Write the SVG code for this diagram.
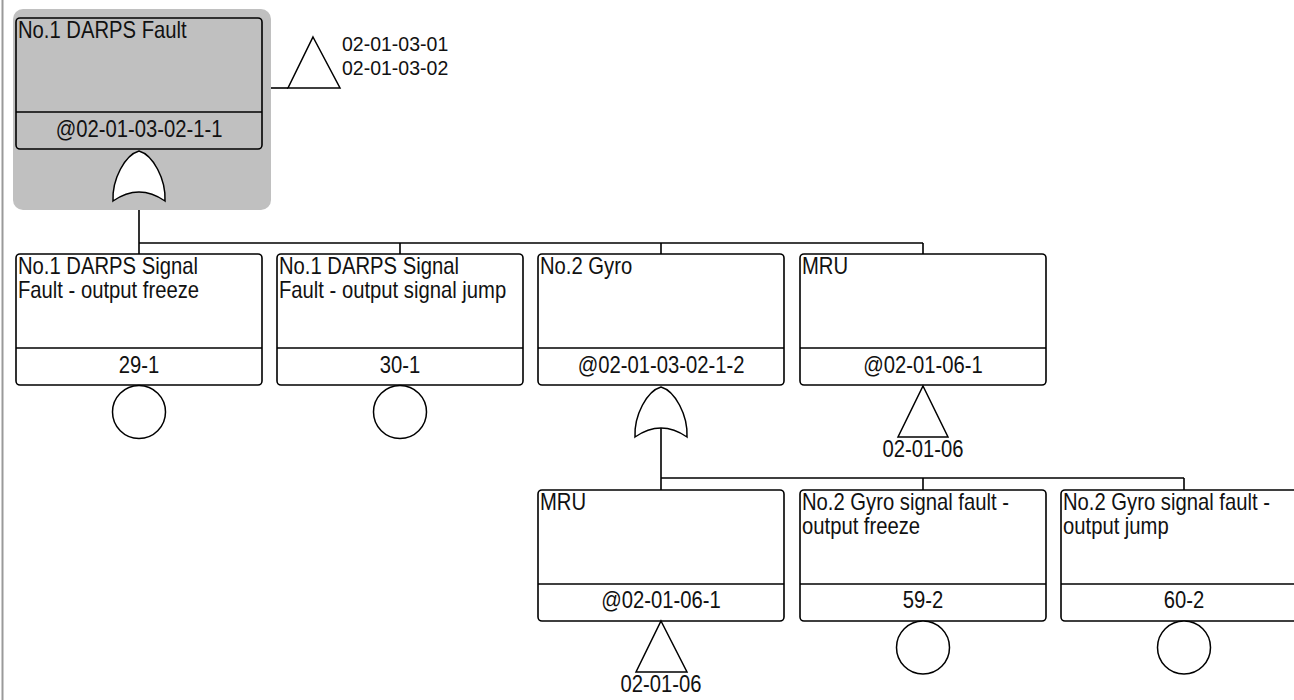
<svg xmlns="http://www.w3.org/2000/svg" width="1294" height="700" viewBox="0 0 1294 700">
<style>
.bg{fill:#fff}
.box{fill:#fff;stroke:#000;stroke-width:1.6}
.ln{fill:none;stroke:#000;stroke-width:1.6}
.sym{fill:#fff;stroke:#000;stroke-width:1.5}
.t{font-family:"Liberation Sans",Arial,sans-serif;font-size:23px;fill:#111}
.s{font-family:"Liberation Sans",Arial,sans-serif;font-size:19.5px;fill:#111}
.c{text-anchor:middle}
</style>
<rect class="bg" x="0" y="0" width="1294" height="700"/>
<line x1="2.5" y1="0" x2="2.5" y2="700" stroke="#9a9a9a" stroke-width="2"/>

<g id="connectors">
  <path class="ln" d="M139,193 V254 M139,243 H923 M400,243 V254 M661,243 V254 M923,243 V254"/>
  <path class="ln" d="M661,428 V490 M661,478 H1184 M923,478 V490 M1184,478 V490"/>
  <path class="ln" d="M262,88 H288"/>
</g>

<g id="node-top">
  <rect x="13" y="9" width="258" height="201" rx="10" fill="#c0c0c0"/>
  <rect class="box" x="16" y="18" width="246" height="131" rx="4" style="fill:#c0c0c0"/>
  <line class="ln" x1="16" y1="112" x2="262" y2="112"/>
  <text class="t" transform="translate(18,38) scale(0.88,1)">No.1 DARPS Fault</text>
  <text class="t c" transform="translate(139,137) scale(0.88,1)">@02-01-03-02-1-1</text>
  <path class="sym" d="M113,201 C112,179 125,155 139,151 C153,155 166,179 165,201 Q139,183 113,201 Z"/>
</g>

<g id="transfer-top">
  <path class="sym" d="M313,37 L340,88 L288,88 Z"/>
  <text class="s" x="342" y="51">02-01-03-01</text>
  <text class="s" x="342" y="75">02-01-03-02</text>
</g>

<g id="node-a">
  <rect class="box" x="16" y="254" width="246" height="131" rx="4"/>
  <line class="ln" x1="16" y1="348" x2="262" y2="348"/>
  <text class="t" transform="translate(18,274) scale(0.88,1)">No.1 DARPS Signal</text>
  <text class="t" transform="translate(18,298) scale(0.88,1)">Fault - output freeze</text>
  <text class="t c" transform="translate(139,373) scale(0.88,1)">29-1</text>
  <circle class="sym" cx="139" cy="412" r="26.5"/>
</g>

<g id="node-b">
  <rect class="box" x="277" y="254" width="246" height="131" rx="4"/>
  <line class="ln" x1="277" y1="348" x2="523" y2="348"/>
  <text class="t" transform="translate(279,274) scale(0.88,1)">No.1 DARPS Signal</text>
  <text class="t" transform="translate(279,298) scale(0.88,1)">Fault - output signal jump</text>
  <text class="t c" transform="translate(400,373) scale(0.88,1)">30-1</text>
  <circle class="sym" cx="400" cy="412" r="26.5"/>
</g>

<g id="node-c">
  <rect class="box" x="538" y="254" width="246" height="131" rx="4"/>
  <line class="ln" x1="538" y1="348" x2="784" y2="348"/>
  <text class="t" transform="translate(540,274) scale(0.88,1)">No.2 Gyro</text>
  <text class="t c" transform="translate(661,373) scale(0.88,1)">@02-01-03-02-1-2</text>
  <path class="sym" d="M635,437 C634,415 647,391 661,387 C675,391 688,415 687,437 Q661,419 635,437 Z"/>
</g>

<g id="node-d">
  <rect class="box" x="800" y="254" width="246" height="131" rx="4"/>
  <line class="ln" x1="800" y1="348" x2="1046" y2="348"/>
  <text class="t" transform="translate(802,274) scale(0.88,1)">MRU</text>
  <text class="t c" transform="translate(923,373) scale(0.88,1)">@02-01-06-1</text>
  <path class="sym" d="M923,386 L948,437 L898,437 Z"/>
  <text class="t c" transform="translate(923,457) scale(0.88,1)">02-01-06</text>
</g>

<g id="node-e">
  <rect class="box" x="538" y="490" width="246" height="131" rx="4"/>
  <line class="ln" x1="538" y1="584" x2="784" y2="584"/>
  <text class="t" transform="translate(540,510) scale(0.88,1)">MRU</text>
  <text class="t c" transform="translate(661,608) scale(0.88,1)">@02-01-06-1</text>
  <path class="sym" d="M661,621 L687,672 L636,672 Z"/>
  <text class="t c" transform="translate(661,692) scale(0.88,1)">02-01-06</text>
</g>

<g id="node-f">
  <rect class="box" x="800" y="490" width="246" height="131" rx="4"/>
  <line class="ln" x1="800" y1="584" x2="1046" y2="584"/>
  <text class="t" transform="translate(802,510) scale(0.88,1)">No.2 Gyro signal fault -</text>
  <text class="t" transform="translate(802,534) scale(0.88,1)">output freeze</text>
  <text class="t c" transform="translate(923,608) scale(0.88,1)">59-2</text>
  <circle class="sym" cx="923" cy="647.5" r="26.5"/>
</g>

<g id="node-g">
  <rect class="box" x="1061" y="490" width="246" height="131" rx="4"/>
  <line class="ln" x1="1061" y1="584" x2="1307" y2="584"/>
  <text class="t" transform="translate(1063,510) scale(0.88,1)">No.2 Gyro signal fault -</text>
  <text class="t" transform="translate(1063,534) scale(0.88,1)">output jump</text>
  <text class="t c" transform="translate(1184,608) scale(0.88,1)">60-2</text>
  <circle class="sym" cx="1184" cy="647.5" r="26.5"/>
</g>
</svg>
